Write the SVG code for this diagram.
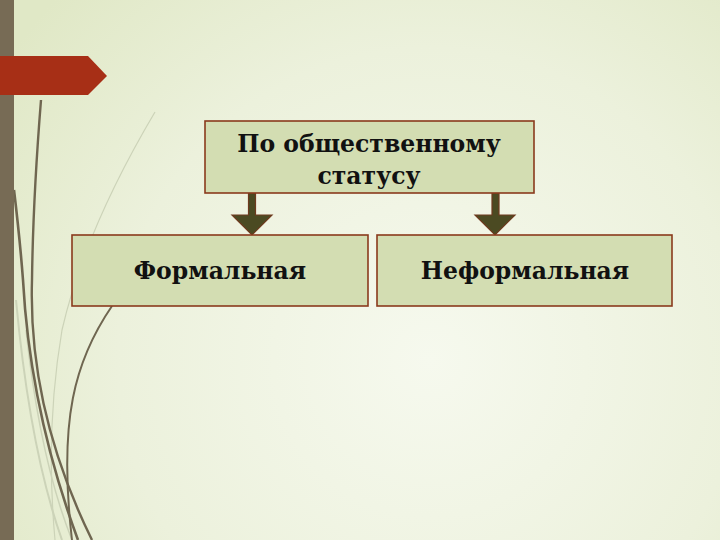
<svg xmlns="http://www.w3.org/2000/svg" width="720" height="540" viewBox="0 0 720 540">
<defs>
<radialGradient id="bg" cx="430" cy="360" r="520" gradientUnits="userSpaceOnUse">
<stop offset="0" stop-color="#f6f9ee"/>
<stop offset="0.6" stop-color="#ecf1dc"/>
<stop offset="1" stop-color="#e0e8c6"/>
</radialGradient>
<style>
.box{fill:#d3ddb2;stroke:#8a3a1c;stroke-width:1.6}
.lbl{font-family:"DejaVu Serif","Liberation Serif",serif;font-weight:bold;fill:#111;text-anchor:middle;font-size:23.5px}
.arr{fill:#4b4a22;stroke:#6e3a1e;stroke-width:1.2}
.dk{fill:none;stroke:#6f6650}
.lt{fill:none;stroke:#ccd3b8}
</style>
</defs>
<rect width="720" height="540" fill="url(#bg)"/>
<g id="decor">
<path class="lt" d="M155,112 Q 85,230 62,330 Q 45,430 55,540" stroke-width="1.2"/>
<path class="lt" d="M16,300 Q 30,450 62,540" stroke-width="2"/>
<path class="lt" d="M26,330 Q 40,460 72,540" stroke-width="1.5"/>
<path class="dk" d="M41,100 Q 33,200 32,280 Q 28,410 92,540" stroke-width="2.4"/>
<path class="dk" d="M14,190 Q 20,240 23,280 Q 30,410 78,540" stroke-width="2.6"/>
<path class="dk" d="M112,306 C 75,360 58,420 72,540" stroke-width="2"/>
<rect x="0" y="0" width="14" height="540" fill="#776b55"/>
<polygon points="0,56 88,56 107,76 88,95 0,95" fill="#a72f16"/>
</g>
<g id="connectors">
<path class="arr" d="M248.5,193 V215 H232 L252,235 L272,215 H255.5 V193 Z"/>
<path class="arr" d="M492,193 V215 H475 L495,235 L515,215 H499 V193 Z"/>
</g>
<g id="node-top">
<rect class="box" x="205" y="121" width="329" height="72"/>
<text class="lbl" x="369" y="152">По общественному</text>
<text class="lbl" x="369" y="184">статусу</text>
</g>
<g id="node-formal">
<rect class="box" x="72" y="235" width="296" height="71"/>
<text class="lbl" x="220" y="279">Формальная</text>
</g>
<g id="node-informal">
<rect class="box" x="377" y="235" width="295" height="71"/>
<text class="lbl" x="525" y="279">Неформальная</text>
</g>
</svg>
